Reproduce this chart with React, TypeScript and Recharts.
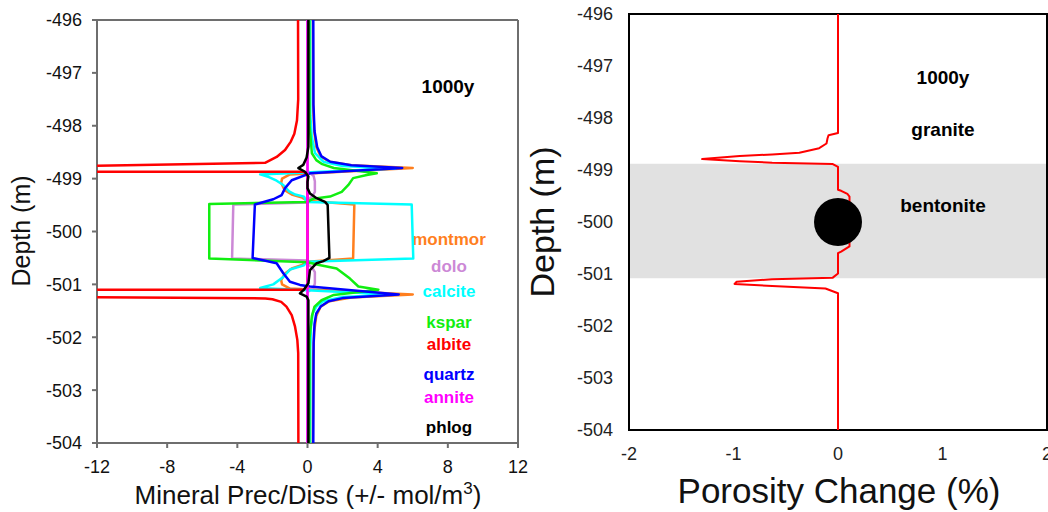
import React from 'react';
import { ScatterChart, Scatter, XAxis, YAxis, ReferenceArea, ReferenceDot } from 'recharts';

type Pair = [number, number]; // [value, depth]

const FONT = '"Liberation Sans", Arial, Helvetica, sans-serif';

// ---------- data ----------
const depthTicks = [-504, -503, -502, -501, -500, -499, -498, -497, -496];
const mineralTicks = [-12, -8, -4, 0, 4, 8, 12];
const porosityTicks = [-2, -1, 0, 1, 2];

const seriesNames = ['montmor', 'dolo', 'calcite', 'kspar', 'albite', 'quartz', 'annite', 'phlog'];

const montmor: Pair[] = [
  [0.3, -496], [0.32, -497.6], [0.38, -498.1], [0.5, -498.4], [0.75, -498.58], [1.25, -498.68],
  [2.5, -498.745], [6.0, -498.8], [-1.0, -498.92], [-1.45, -499.0], [-1.5, -499.08], [-1.3, -499.22],
  [-0.9, -499.3], [-0.3, -499.36], [0, -499.42], [2.67, -499.49], [2.6, -500.51], [0, -500.57],
  [-0.3, -500.63], [-0.9, -500.7], [-1.3, -500.8], [-1.5, -500.92], [-1.45, -501.0], [-1.0, -501.08],
  [6.0, -501.19], [2.5, -501.25], [1.25, -501.32], [0.75, -501.42], [0.5, -501.6], [0.38, -501.9],
  [0.32, -502.4], [0.3, -504],
];

const dolo: Pair[] = [
  [0, -496], [0, -498.85], [0.35, -498.95], [0.42, -499.05], [0.42, -499.25], [0.3, -499.32],
  [0.05, -499.4], [0, -499.45], [-4.23, -499.49], [-4.3, -500.51], [0, -500.55], [0.05, -500.62],
  [0.3, -500.7], [0.42, -500.77], [0.42, -500.98], [0.35, -501.06], [0, -501.15], [0, -504],
];

const calcite: Pair[] = [
  [0.15, -496], [0.16, -497.8], [0.24, -498.2], [0.43, -498.52], [0.9, -498.68], [2.0, -498.76],
  [5.0, -498.81], [-2.7, -498.92], [-2.2, -498.97], [-1.76, -499.04], [-1.38, -499.12], [-1.05, -499.24],
  [-0.7, -499.3], [-0.2, -499.34], [-0.05, -499.44], [5.94, -499.49], [6.03, -500.51], [-0.05, -500.57],
  [-0.2, -500.64], [-1.0, -500.72], [-1.38, -500.86], [-1.95, -501.0], [-2.7, -501.07], [5.0, -501.19],
  [2.0, -501.24], [0.9, -501.32], [0.5, -501.42], [0.3, -501.55], [0.2, -501.8], [0.16, -502.2],
  [0.15, -504],
];

const kspar: Pair[] = [
  [0.1, -496], [0.12, -498.0], [0.25, -498.52], [0.5, -498.65], [0.8, -498.72], [1.5, -498.8],
  [3.95, -498.9], [3.38, -498.93], [2.6, -498.99], [2.33, -499.12], [1.95, -499.25], [1.28, -499.34],
  [0.33, -499.38], [0, -499.44], [-5.6, -499.48], [-5.6, -500.51], [0, -500.58], [0.6, -500.63],
  [1.66, -500.7], [2.42, -500.89], [2.9, -501.04], [4.04, -501.1], [1.5, -501.2], [0.8, -501.3],
  [0.4, -501.42], [0.25, -501.6], [0.12, -502], [0.1, -504],
];

const albite: Pair[] = [
  [-0.54, -496], [-0.53, -497.5], [-0.6, -497.9], [-0.75, -498.15], [-0.95, -498.3], [-1.28, -498.46],
  [-1.76, -498.59], [-2.42, -498.7], [-30, -498.86], [-30, -498.87], [-0.2, -498.87], [0, -498.95],
  [0, -501.0], [-0.2, -501.1], [-30, -501.1], [-30, -501.2], [-2.4, -501.265], [-2.0, -501.28],
  [-1.5, -501.33], [-1.2, -501.42], [-0.9, -501.58], [-0.71, -501.8], [-0.58, -502.05], [-0.53, -502.3],
  [-0.52, -504],
];

const quartz: Pair[] = [
  [0.33, -496], [0.34, -497.6], [0.4, -498.1], [0.55, -498.4], [0.8, -498.58], [1.3, -498.68],
  [2.5, -498.745], [5.4, -498.8], [0.14, -498.9], [-0.9, -499.03], [-1.28, -499.18], [-1.47, -499.31],
  [-1.95, -499.39], [-3.0, -499.49], [-3.13, -500.5], [-1.76, -500.6], [-1.38, -500.79], [-1.0, -500.95],
  [-0.43, -501.01], [0.14, -501.04], [5.2, -501.19], [2.0, -501.26], [1.2, -501.32], [0.75, -501.42],
  [0.5, -501.55], [0.4, -501.75], [0.35, -502.1], [0.33, -504],
];

const annite: Pair[] = [
  [0, -496], [0, -500], [0, -504],
];

const phlog: Pair[] = [
  [0.05, -496], [0.05, -498.4], [-0.05, -498.6], [-0.24, -498.74], [-0.52, -498.8], [-0.14, -498.87],
  [0.05, -498.96], [0, -499.06], [0, -499.18], [0.14, -499.28], [0.52, -499.37], [1.0, -499.44],
  [1.15, -499.5], [1.25, -500.5], [0.9, -500.56], [0.52, -500.6], [0.14, -500.73], [0.05, -500.98],
  [-0.2, -501.1], [-0.43, -501.17], [-0.05, -501.23], [0.05, -501.3], [0.05, -504],
];

const porosity: Pair[] = [
  [0, -496], [0, -498.29], [-0.09, -498.33], [-0.1, -498.39], [-0.11, -498.49], [-0.18, -498.58],
  [-0.37, -498.67], [-0.63, -498.7], [-0.94, -498.73], [-1.3, -498.79], [-0.94, -498.83], [-0.63, -498.86],
  [-0.05, -498.885], [0, -498.94], [0, -499.38], [0.03, -499.4], [0.09, -499.46], [0.11, -499.51],
  [0.11, -500.47], [0.03, -500.57], [0, -500.6], [0, -500.99], [-0.05, -501.07], [-0.63, -501.1],
  [-0.97, -501.15], [-0.99, -501.19], [-0.63, -501.23], [-0.12, -501.28], [0, -501.37], [0, -504],
];

const bentoniteTop = -498.88;
const bentoniteBottom = -501.08;
const canister: Pair = [0, -500];
// annotation anchors (text baseline) on the porosity panel: [porosity %, depth]
const rightNotes: { text: string; at: Pair }[] = [
  { text: '1000y', at: [1.005, -497.35] },
  { text: 'granite', at: [1.005, -498.35] },
  { text: 'bentonite', at: [1.005, -499.8] },
];

// ---------- styles ----------
const seriesData = [montmor, dolo, calcite, kspar, albite, quartz, annite, phlog];
const seriesColors = ['#ff7f1e', '#cc88d6', '#00ffff', '#11ee11', '#ff0000', '#0000ff', '#ff00ff', '#000000'];
const legendBaselines = [245, 271.7, 297.3, 328.3, 350, 380, 403.3, 433.3];

const toPoints = (arr: Pair[]) => arr.map(([x, depth]) => ({ x, depth }));
const NoShape = () => <g />;

const FRAME = '#6e6e6e';

function LeftChart() {
  const tickStyle = { fontSize: 18, fill: '#111', fontFamily: FONT };
  return (
    <ScatterChart width={540} height={512} margin={{ top: 10, right: 12, bottom: 0, left: 0 }}>
      <XAxis
        xAxisId="main"
        type="number"
        dataKey="x"
        domain={[-12, 12]}
        ticks={mineralTicks}
        allowDataOverflow
        orientation="bottom"
        height={69}
        tickSize={5}
        tickMargin={12}
        stroke={FRAME}
        strokeWidth={2}
        tick={tickStyle}
        interval={0}
      />
      <XAxis
        xAxisId="top"
        type="number"
        domain={[-12, 12]}
        ticks={mineralTicks}
        allowDataOverflow
        orientation="top"
        height={10}
        tickSize={5}
        stroke={FRAME}
        strokeWidth={2}
        tick={false}
      />
      <YAxis
        yAxisId="main"
        type="number"
        dataKey="depth"
        domain={[-504, -496]}
        ticks={depthTicks}
        allowDataOverflow
        width={97}
        tickSize={5}
        tickMargin={10}
        stroke={FRAME}
        strokeWidth={2}
        tick={tickStyle}
        interval={0}
      />
      <YAxis
        yAxisId="right"
        type="number"
        domain={[-504, -496]}
        ticks={depthTicks}
        allowDataOverflow
        orientation="right"
        width={10}
        tickSize={5}
        stroke={FRAME}
        strokeWidth={2}
        tick={false}
      />
      {seriesData.map((d, i) => (
        <Scatter
          key={seriesNames[i]}
          name={seriesNames[i]}
          xAxisId="main"
          yAxisId="main"
          data={toPoints(d)}
          fill={seriesColors[i]}
          line={{ stroke: seriesColors[i], strokeWidth: 2.5, strokeLinejoin: 'round' }}
          lineJointType="linear"
          shape={NoShape}
          isAnimationActive={false}
        />
      ))}
      <text x={448} y={93.3} textAnchor="middle" fontFamily={FONT} fontWeight="bold" fontSize={19} fill="#000">1000y</text>
      {seriesNames.map((n, i) => (
        <text key={n} x={449} y={legendBaselines[i]} textAnchor="middle" fontFamily={FONT} fontWeight="bold" fontSize={17} fill={seriesColors[i]}>
          {n}
        </text>
      ))}
      <text x={308} y={504} textAnchor="middle" fontFamily={FONT} fontSize={26} fill="#111">
        Mineral Prec/Diss (+/- mol/m<tspan dy={-10} fontSize={17}>3</tspan><tspan dy={10}>)</tspan>
      </text>
      <text transform="translate(30,231) rotate(-90)" textAnchor="middle" fontFamily={FONT} fontSize={25} fill="#111">
        Depth (m)
      </text>
    </ScatterChart>
  );
}

const noteContent = (text: string) => (props: any) => {
  const vb = props.viewBox || {};
  const cx = (vb.x ?? 0) + (vb.width ?? 0) / 2;
  const cy = (vb.y ?? 0) + (vb.height ?? 0) / 2;
  return (
    <text x={cx} y={cy} textAnchor="middle" fontFamily={FONT} fontWeight="bold" fontSize={19} fill="#000">
      {text}
    </text>
  );
};

function RightChart() {
  const tickStyle = { fontSize: 18, fill: '#222', fontFamily: FONT };
  return (
    <ScatterChart width={528} height={512} margin={{ top: 14, right: 1, bottom: 0, left: 0 }}>
      <XAxis
        type="number"
        dataKey="x"
        domain={[-2, 2]}
        ticks={porosityTicks}
        allowDataOverflow
        height={82}
        tickSize={0}
        tickLine={false}
        axisLine={false}
        tickMargin={17}
        tick={tickStyle}
        interval={0}
      />
      <YAxis
        type="number"
        dataKey="depth"
        domain={[-504, -496]}
        ticks={depthTicks}
        allowDataOverflow
        width={109}
        tickSize={0}
        tickLine={false}
        axisLine={false}
        tickMargin={16}
        tick={tickStyle}
        interval={0}
      />
      <ReferenceArea x1={-2} x2={2} y1={bentoniteBottom} y2={bentoniteTop} fill="#e1e1e1" fillOpacity={1} stroke="none" />
      <ReferenceArea x1={-2} x2={2} y1={-504} y2={-496} fill="none" stroke="#000" strokeWidth={2} />
      <Scatter
        name="porosity"
        data={toPoints(porosity)}
        fill="#ff0000"
        line={{ stroke: '#ff0000', strokeWidth: 2, strokeLinejoin: 'round' }}
        lineJointType="linear"
        shape={NoShape}
        isAnimationActive={false}
      />
      <ReferenceDot x={canister[0]} y={canister[1]} r={24} fill="#000" stroke="none" />
      {rightNotes.map((n) => (
        <ReferenceDot
          key={n.text}
          x={n.at[0]}
          y={n.at[1]}
          r={0}
          fill="none"
          stroke="none"
          label={{ content: noteContent(n.text) }}
        />
      ))}
      <text x={319} y={503} textAnchor="middle" fontFamily={FONT} fontSize={35} fill="#111">Porosity Change (%)</text>
      <text transform="translate(34,222) rotate(-90)" textAnchor="middle" fontFamily={FONT} fontSize={34} fill="#111">
        Depth (m)
      </text>
    </ScatterChart>
  );
}

export default function App() {
  return (
    <div style={{ position: 'absolute', left: 0, top: 0, width: 1048, height: 512, overflow: 'hidden', background: '#fff' }}>
      <div style={{ position: 'absolute', left: 0, top: 0 }}>
        <LeftChart />
      </div>
      <div style={{ position: 'absolute', left: 520, top: 0 }}>
        <RightChart />
      </div>
    </div>
  );
}
